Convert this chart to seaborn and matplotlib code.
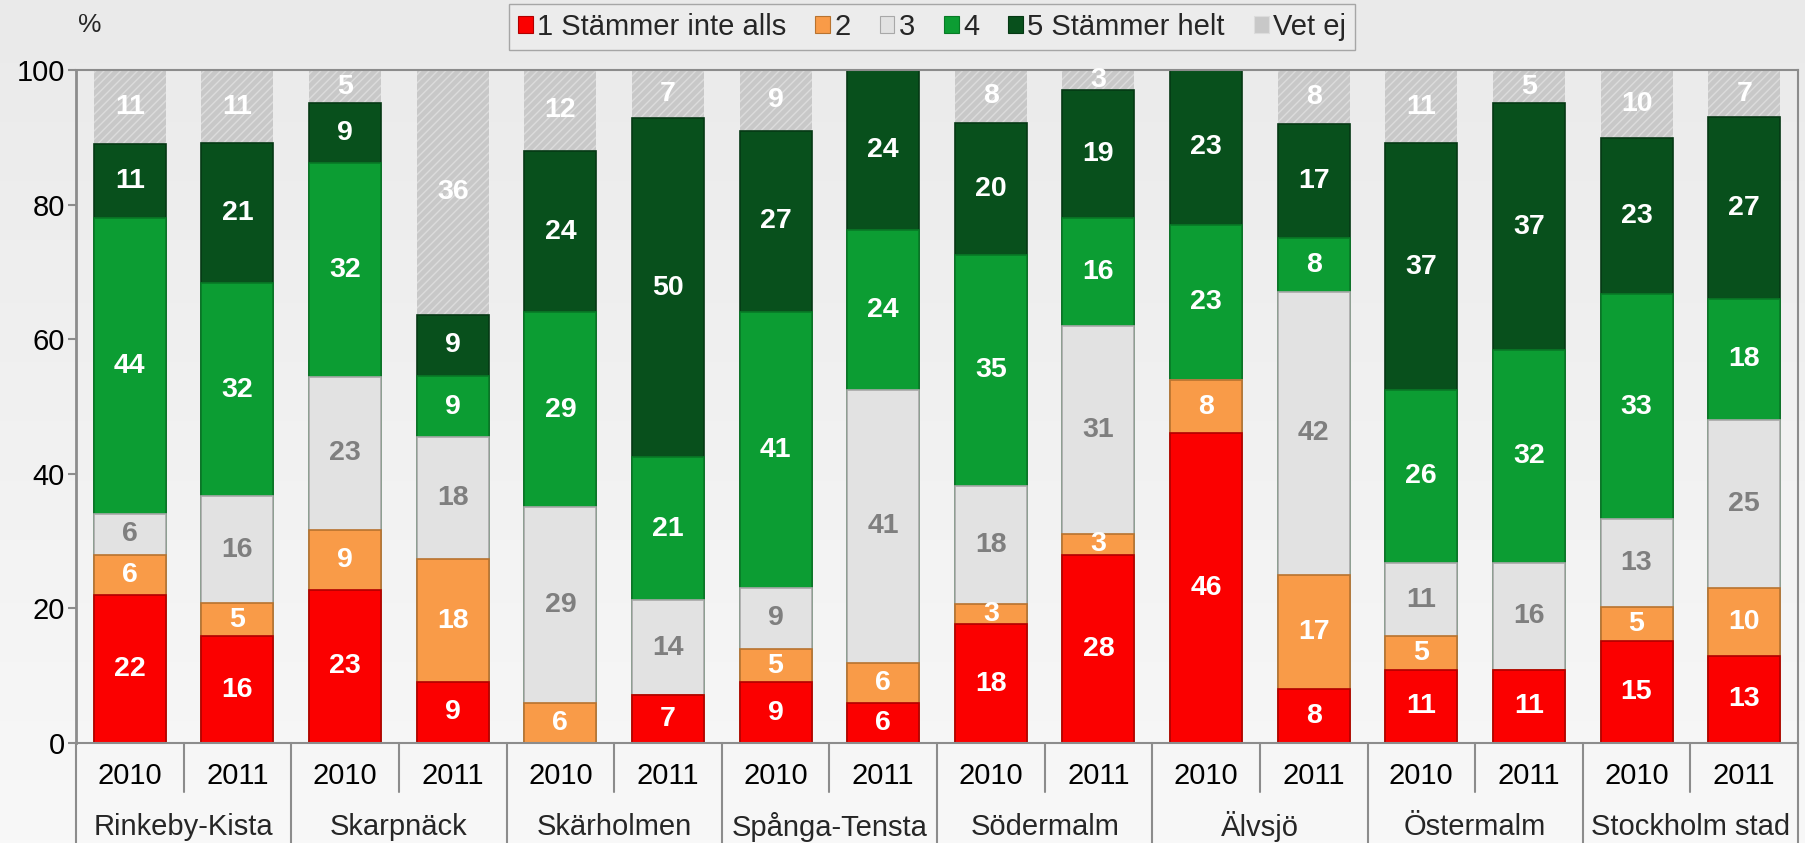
import seaborn as sns
import matplotlib.pyplot as plt
import pandas as pd
import numpy as np
from matplotlib.patches import Patch
from matplotlib.colors import LinearSegmentedColormap

# Stadsdelar och år
groups = ['Rinkeby-Kista', 'Skarpnäck', 'Skärholmen', 'Spånga-Tensta',
          'Södermalm', 'Älvsjö', 'Östermalm', 'Stockholm stad']
years = ['2010', '2011']

# Andel svar (%) per stapel, i ordning grupp/år
svar_1 = [22, 16, 23, 9, 0, 7, 9, 6, 18, 28, 46, 8, 11, 11, 15, 13]
svar_2 = [6, 5, 9, 18, 6, 0, 5, 6, 3, 3, 8, 17, 5, 0, 5, 10]
svar_3 = [6, 16, 23, 18, 29, 14, 9, 41, 18, 31, 0, 42, 11, 16, 13, 25]
svar_4 = [44, 32, 32, 9, 29, 21, 41, 24, 35, 16, 23, 8, 26, 32, 33, 18]
svar_5 = [11, 21, 9, 9, 24, 50, 27, 24, 20, 19, 23, 17, 37, 37, 23, 27]
vet_ej = [11, 11, 5, 36, 12, 7, 9, 0, 8, 3, 0, 8, 11, 5, 10, 7]

kategorier = ['1 Stämmer inte alls', '2', '3', '4', '5 Stämmer helt', 'Vet ej']
colors = ['#fb0000', '#f99b48', '#e2e2e2', '#0c9d33', '#08501c', '#c8c8c8']
edge_colors = ['#b00000', '#b8732f', '#a8a8a8', '#087a26', '#053814', '#dcdcdc']
label_colors = ['white', 'white', '#7f7f7f', 'white', 'white', 'white']

sns.set_theme(style='white')
plt.rcParams['font.family'] = ['Liberation Sans', 'DejaVu Sans']

bars = [f'{g} {y}' for g in groups for y in years]
vals = np.array([svar_1, svar_2, svar_3, svar_4, svar_5, vet_ej], dtype=float)
# 100 % staplad stapel
pct = vals / vals.sum(axis=0) * 100
cum = pct.cumsum(axis=0)

fig = plt.figure(figsize=(18.05, 8.43), dpi=100)
bg = fig.add_axes([0, 0, 1, 1], zorder=-10)
bg.imshow(np.linspace(0, 1, 256).reshape(-1, 1), aspect='auto', extent=[0, 1, 0, 1],
          cmap=LinearSegmentedColormap.from_list('bg', ['#eaeaea', '#f8f8f8']))
bg.axis('off')

ax = fig.add_axes([76 / 1805, 100 / 843, 1722 / 1805, 673 / 843])
ax.set_facecolor('none')

# rita kumulativa summor uppifrån och ner
for k in range(5, -1, -1):
    df = pd.DataFrame({'bar': bars, 'cum': cum[k]})
    if k == 5:
        sns.barplot(data=df, x='bar', y='cum', order=bars, color=colors[k], saturation=1,
                    width=0.67, errorbar=None, edgecolor=edge_colors[k], linewidth=0,
                    hatch='////', ax=ax, zorder=2)
    else:
        sns.barplot(data=df, x='bar', y='cum', order=bars, color=colors[k], saturation=1,
                    width=0.67, errorbar=None, edgecolor=edge_colors[k], linewidth=1.2,
                    ax=ax, zorder=2)

for i in range(len(bars)):
    for k in range(6):
        if vals[k, i] > 0:
            ax.text(i, cum[k, i] - pct[k, i] / 2, f'{int(vals[k, i])}', ha='center', va='center',
                    color=label_colors[k], fontsize=20.5, fontweight='bold', zorder=5, clip_on=False)

ax.set_ylim(0, 100)
ax.set_xlim(-0.5, len(bars) - 0.5)
ax.set_yticks(range(0, 101, 20))
ax.set_xticks(range(len(bars)))
ax.set_xticklabels(years * len(groups))
ax.set_xlabel('')
ax.set_ylabel('')
ax.tick_params(axis='x', length=0, pad=14, labelsize=21, colors='black')
ax.tick_params(axis='y', length=6, width=1.5, pad=2, labelsize=21, color='#8c8c8c', labelcolor='black', left=True)
for s in ax.spines.values():
    s.set_color('#8c8c8c')
    s.set_linewidth(1.5)
ax.spines['left'].set_linewidth(2)

trans = ax.get_xaxis_transform()
for b in np.arange(-0.5, len(bars), 1):
    depth = -0.1486 if int(b + 0.5) % 2 == 0 else -0.0728
    ax.plot([b, b], [0, depth], transform=trans, clip_on=False, color='#8c8c8c', lw=1.5)
for j, g in enumerate(groups):
    ax.text(2 * j + 0.5, -0.1248, g, transform=trans, ha='center', va='center', fontsize=21)

fig.text(90 / 1805, 1 - 25 / 843, '%', ha='center', va='center', fontsize=19)

handles = [Patch(facecolor=c, edgecolor=e, linewidth=0.8) for c, e in zip(colors, edge_colors)]
fig.legend(handles, kategorier, ncol=6, loc='center', bbox_to_anchor=(932 / 1805, 1 - 27 / 843),
           frameon=True, fancybox=False, edgecolor='#a6a6a6', facecolor='#ececec', framealpha=1,
           fontsize=21, handlelength=0.5, handleheight=0.5, handletextpad=0.15,
           columnspacing=1.0, borderpad=0.3)

fig.savefig('out.png', dpi=100)
